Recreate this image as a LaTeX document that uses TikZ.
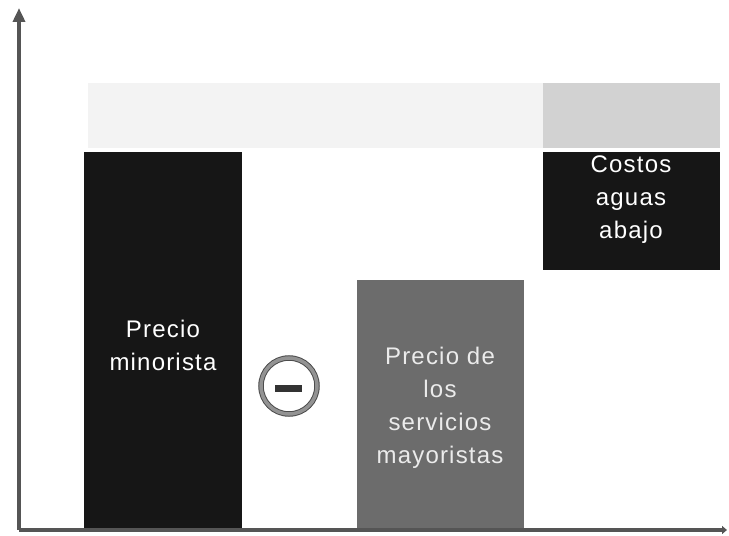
\documentclass[tikz,border=0pt]{standalone}
\usepackage{fontspec}
\setmainfont{Liberation Sans}
\newfontfamily\barfont[LetterSpace=5]{Liberation Sans}
\usetikzlibrary{arrows.meta}
\definecolor{myblack}{RGB}{22,22,22}
\definecolor{mygray}{RGB}{108,108,108}
\definecolor{mybandlight}{RGB}{243,243,243}
\definecolor{mybanddark}{RGB}{210,210,210}
\definecolor{myaxis}{RGB}{85,85,85}
\tikzstyle{bar}=[inner sep=0pt, anchor=south]
\tikzstyle{barlabel}=[text=white, align=center, font=\barfont\fontsize{24}{33}\selectfont]
\tikzstyle{axis}=[draw=myaxis, line width=3.5pt]

\begin{document}
\begin{tikzpicture}[x=1pt, y=1pt]
\useasboundingbox (0,0) rectangle (729,536);
% band above the bars
\fill [mybandlight] (88,388) rectangle (543,453);
\fill [mybanddark] (543,388) rectangle (720,453);
% bars
\draw (163,6) node [bar, fill=myblack, minimum width=158pt, minimum height=378pt] (b1) {};
\draw (440,6) node [bar, fill=mygray, minimum width=167pt, minimum height=250pt] (b2) {};
\draw (631,266) node [bar, fill=myblack, minimum width=177pt, minimum height=118pt] (b3) {};
\draw (163,191) node [barlabel] (t1) {Precio\\minorista};
\draw (440,128) node [barlabel, text=black!8] (t2) {Precio de\\los\\servicios\\mayoristas};
\draw (631,336) node [barlabel] (t3) {Costos\\aguas\\abajo};
% minus sign
\draw (289,150) node [circle, minimum size=56pt, draw=black!70, line width=1pt, double=gray!85, double distance=3.5pt] (m) {};
\fill [black!80] (275,144) rectangle (302,151);
% axes
\coordinate (o) at (19,6);
\coordinate (ytop) at (19,528);
\coordinate (xend) at (727,6);
\draw [axis, -{Triangle[width=12pt, length=14pt]}] (o) -- (ytop);
\draw [axis, -{Triangle[width=8pt, length=5pt]}] (o) -- (xend);
\end{tikzpicture}
\end{document}
